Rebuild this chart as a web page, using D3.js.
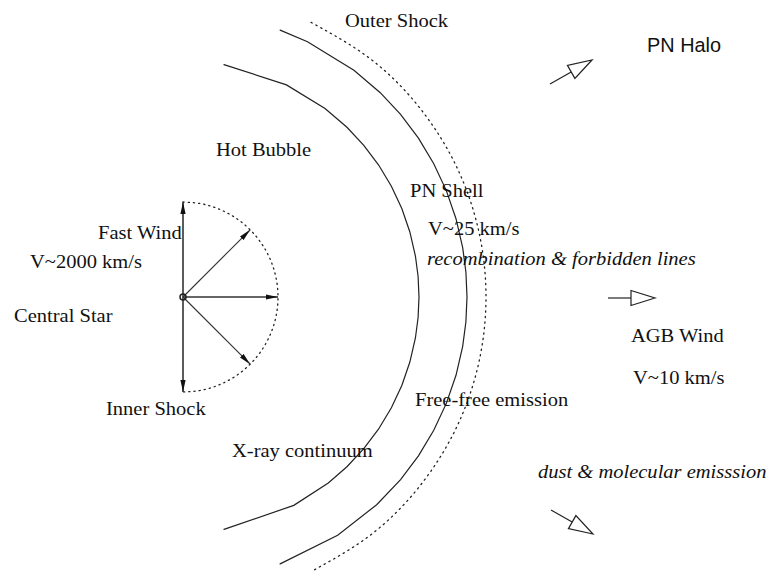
<!DOCTYPE html>
<html>
<head>
<meta charset="utf-8">
<script src="https://cdn.jsdelivr.net/npm/d3@7"></script>
<style>
  body { margin: 0; background: #fff; }
  text { fill: #111; }
</style>
</head>
<body>
<svg width="766" height="573"></svg>
<script>
// shells around the central star: radius (px) and vertex angles (deg, counter-clockwise from +x)
const shellNames = ["Hot bubble edge", "PN shell edge", "Outer shock"];
const shellRadii = [236, 284, 303];
const shellDashed = [false, false, true];
const shellAngles = [
    [80, 64, 53, 46, 40, 34, 28, 22, 16, 10, 5, 0, -5, -10, -16, -22, -28, -34, -40, -46, -52, -62, -80],
    [70, 64, 53, 46, 40, 34, 28, 22, 16, 10, 5, 0, -5, -10, -16, -22, -28, -34, -40, -47, -57, -70],
    [65, 52, 39, 26, 13, 0, -13, -26, -39, -52, -65]
];

// fast wind arrows from the central star
const windAngles = [90, 45, 0, -45, -90];
const windLength = 95;

// outflow arrows (open heads): start and end points
const outflowArrows = [
    [[550, 84], [592, 60]],
    [[608, 298], [655, 298]],
    [[551, 510], [593, 534]]
];

// labels
const labelText = ["Outer Shock", "PN Halo", "Hot Bubble", "PN Shell", "Fast Wind", "V~25 km/s",
    "V~2000 km/s", "recombination & forbidden lines", "Central Star", "AGB Wind", "V~10 km/s",
    "Inner Shock", "Free-free emission", "X-ray continuum", "dust & molecular emisssion"];
const labelX = [345, 647, 216, 410, 98, 428, 30, 427, 14, 631, 633, 106, 415, 232, 538];
const labelY = [27, 52, 156, 197, 239, 235, 268, 265, 322, 342, 384, 415, 406, 457, 478];
const labelStyle = ["serif", "sans", "serif", "serif", "serif", "serif", "serif", "italic",
    "serif", "serif", "serif", "serif", "serif", "serif", "italic"];

const star = [183, 297];

let svg = d3.select("svg");
const rad = d => (90 - d) * Math.PI / 180; // d3 radial angle (clockwise from 12 o'clock)

let g = svg.append("g").attr("transform", `translate(${star[0]},${star[1]})`);

shellRadii.forEach(function (r, i) {
    let line = d3.lineRadial()
        .angle(d => rad(d))
        .radius(r)
        .curve(shellDashed[i] ? d3.curveNatural : d3.curveLinear);
    g.append("path")
        .attr("d", line(shellAngles[i]))
        .attr("fill", "none")
        .attr("stroke", "#222")
        .attr("stroke-width", shellDashed[i] ? 1.3 : 1.2)
        .attr("stroke-dasharray", shellDashed[i] ? "1.3,4.2" : null)
        .attr("stroke-linecap", "round");
});

// dotted semicircle for the inner shock
let semi = d3.lineRadial().angle(d => rad(d)).radius(windLength).curve(d3.curveNatural);
g.append("path")
    .attr("d", semi(d3.range(90, -91, -10)))
    .attr("fill", "none")
    .attr("stroke", "#222")
    .attr("stroke-width", 1.3)
    .attr("stroke-dasharray", "1.2,4")
    .attr("stroke-linecap", "round");

svg.append("defs").append("marker")
    .attr("id", "head")
    .attr("viewBox", "0 -3 12 6")
    .attr("refX", 12).attr("refY", 0)
    .attr("markerWidth", 12).attr("markerHeight", 6)
    .attr("markerUnits", "userSpaceOnUse")
    .attr("orient", "auto")
    .append("path").attr("d", "M0,-2.6L12,0L0,2.6Z").attr("fill", "#111");

g.selectAll("line.wind")
    .data(windAngles)
    .enter()
    .append("line")
    .attr("class", "wind")
    .attr("x1", 0).attr("y1", 0)
    .attr("x2", d => windLength * Math.cos(d * Math.PI / 180))
    .attr("y2", d => -windLength * Math.sin(d * Math.PI / 180))
    .attr("stroke", "#333")
    .attr("stroke-width", d => (d % 90 === 0 ? 1.6 : 1.1))
    .attr("marker-end", "url(#head)");

g.append("circle").attr("r", 3).attr("fill", "none").attr("stroke", "#222").attr("stroke-width", 1.5);

// open-headed outflow arrows
outflowArrows.forEach(function (a) {
    let [p, q] = a;
    let dx = q[0] - p[0], dy = q[1] - p[1];
    let len = Math.hypot(dx, dy);
    let ux = dx / len, uy = dy / len;
    let hl = 24, hw = 7.5;
    let bx = q[0] - ux * hl, by = q[1] - uy * hl;
    svg.append("line")
        .attr("x1", p[0]).attr("y1", p[1]).attr("x2", bx).attr("y2", by)
        .attr("stroke", "#222").attr("stroke-width", 1.2);
    let pts = [[q[0], q[1]], [bx - uy * hw, by + ux * hw], [bx + uy * hw, by - ux * hw]];
    svg.append("path")
        .attr("d", d3.line()(pts) + "Z")
        .attr("fill", "none").attr("stroke", "#222").attr("stroke-width", 1.2)
        .attr("stroke-linejoin", "miter");
});

// the original lettering is a little wider than Times, so stretch it horizontally
svg.selectAll("text.lbl")
    .data(labelText)
    .enter()
    .append("text")
    .attr("class", "lbl")
    .attr("transform", (d, i) => `translate(${labelX[i]},${labelY[i]}) scale(${labelStyle[i] === "sans" ? 1.02 : 1.08},1)`)
    .attr("font-family", (d, i) => labelStyle[i] === "sans" ? "Liberation Sans, Arial, sans-serif" : "Liberation Serif, Times New Roman, serif")
    .attr("font-style", (d, i) => labelStyle[i] === "italic" ? "italic" : "normal")
    .attr("font-size", (d, i) => labelStyle[i] === "sans" ? 19.5 : 19)
    .text(d => d);
</script>
</body>
</html>
